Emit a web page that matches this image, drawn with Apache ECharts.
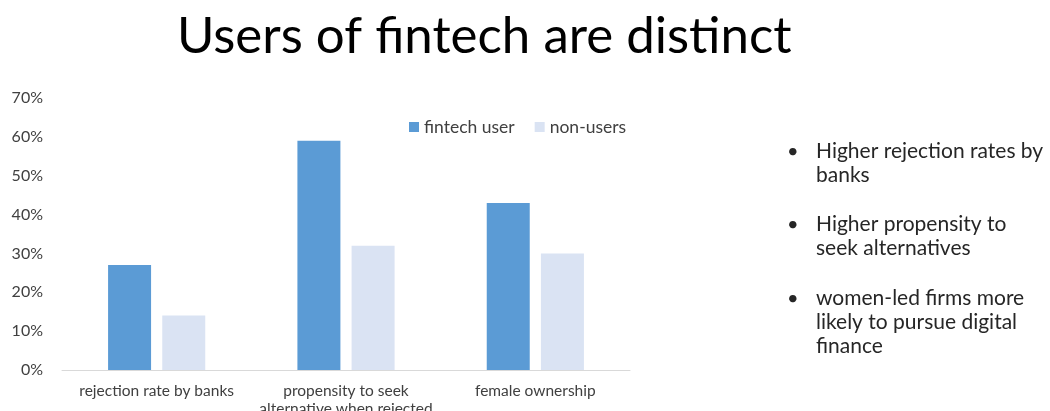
<!DOCTYPE html>
<html>
<head>
<meta charset="utf-8">
<script src="https://cdn.jsdelivr.net/npm/echarts@6/dist/echarts.min.js"></script>
<style>
html, body { margin: 0; padding: 0; background: #fff; }
#chart { width: 1050px; height: 411px; }
</style>
</head>
<body>
<div id="chart"></div>
<script>
// chart data
var categories = ['rejection rate by banks', 'propensity to seek\nalternative when rejected', 'female ownership']
var fintechUser = [27, 59, 43]
var nonUsers = [14, 32, 30]
var seriesNames = ['fintech user', 'non-users']
var bullets = [
    'Higher rejection rates by\nbanks',
    'Higher propensity to\nseek alternatives',
    'women-led firms more\nlikely to pursue digital\nfinance'
]
var bulletTops = [139, 212, 286]

var font = 'Lato, "Open Sans", sans-serif'
var dom = document.getElementById('chart')
var chart = echarts.init(dom)

var graphics = []
bullets.forEach(function (txt, i) {
    graphics.push({
        type: 'text', left: 787, top: bulletTops[i] + 3,
        style: { text: '•', font: '20px ' + font, fill: '#262626' }
    })
    graphics.push({
        type: 'text', left: 816, top: bulletTops[i],
        style: { text: txt, font: '21px ' + font, fill: '#262626', lineHeight: 24 }
    })
})

var option = {
    animation: false,
    color: ['#5b9bd5', '#dae3f3'],
    title: {
        text: 'Users of fintech are distinct',
        left: 172,
        top: 6,
        textStyle: { fontFamily: font, fontSize: 51, fontWeight: 'normal', color: '#000' }
    },
    legend: {
        data: seriesNames,
        left: 404,
        top: 113,
        itemWidth: 10,
        itemHeight: 10,
        itemGap: 20,
        icon: 'rect',
        textStyle: { fontFamily: font, fontSize: 17.5, color: '#404040' }
    },
    grid: { left: 62, right: 420, top: 98, bottom: 41, outerBoundsMode: 'none' },
    xAxis: {
        type: 'category',
        data: categories,
        axisTick: { show: false },
        axisLine: { lineStyle: { color: '#d9d9d9', width: 1 } },
        axisLabel: {
            interval: 0,
            margin: 12,
            fontFamily: font,
            fontSize: 15.5,
            color: '#404040',
            lineHeight: 18
        }
    },
    yAxis: {
        type: 'value',
        min: 0,
        max: 70,
        interval: 10,
        splitLine: { show: false },
        axisLine: { show: false },
        axisLabel: {
            formatter: '{value}%',
            margin: 19,
            fontFamily: font,
            fontSize: 16,
            color: '#404040'
        }
    },
    series: [{
        name: seriesNames[0],
        type: 'bar',
        barWidth: 43,
        barGap: '26%',
        data: fintechUser
    }, {
        name: seriesNames[1],
        type: 'bar',
        barWidth: 43,
        data: nonUsers
    }],
    graphic: graphics
}
chart.setOption(option)
</script>
</body>
</html>
